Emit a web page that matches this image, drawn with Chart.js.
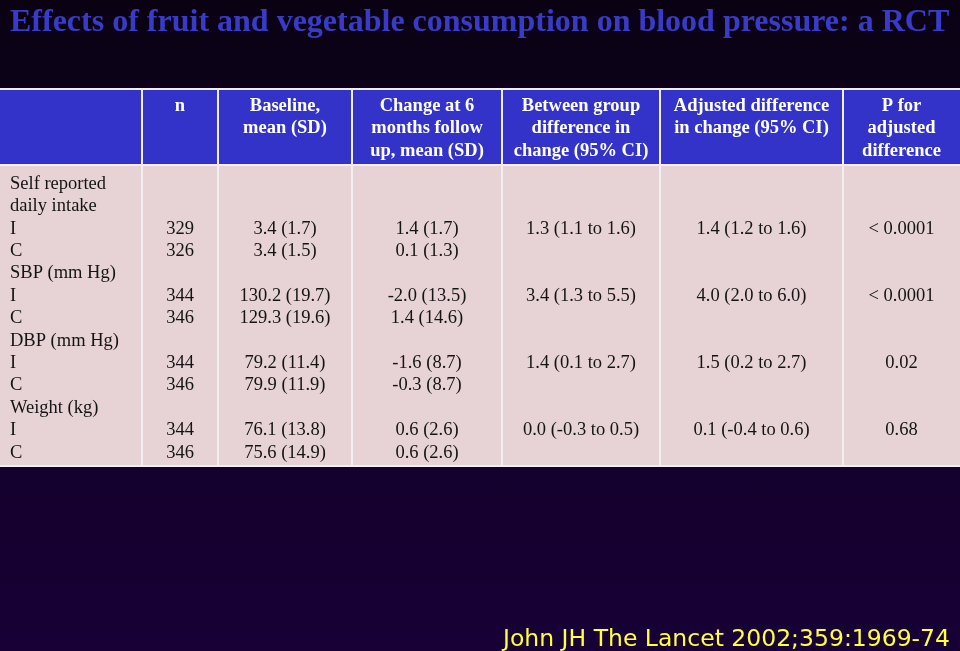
<!DOCTYPE html>
<html>
<head>
<meta charset="utf-8">
<script src="https://cdn.jsdelivr.net/npm/chart.js@4/dist/chart.umd.min.js"></script>
<style>
  html, body { margin: 0; padding: 0; width: 960px; height: 651px; overflow: hidden; }
  body { background: linear-gradient(to bottom, #0a0213 0%, #110125 45%, #180036 100%); position: relative; }
  #title { position: absolute; left: 10px; top: 2px; font: bold 32px "Liberation Serif", serif; color: #3a3ac8; white-space: nowrap; line-height: 36px; }
  #cite { position: absolute; right: 10px; top: 622px; font: 23.5px "Comic Sans MS", "DejaVu Sans", sans-serif; color: #ffff3a; white-space: nowrap; line-height: 32px; }
  #wrap { position: absolute; left: 0; top: 0; width: 960px; height: 651px; }
</style>
</head>
<body>
<div id="wrap"><canvas id="tableChart" width="960" height="651"></canvas></div>
<div id="title">Effects of fruit and vegetable consumption on blood pressure: a RCT</div>
<div id="cite">John JH The Lancet 2002;359:1969-74</div>
<script>
// table data
const headers = [
    [''],
    ['n'],
    ['Baseline,', 'mean (SD)'],
    ['Change at 6', 'months follow', 'up, mean (SD)'],
    ['Between group', 'difference in', 'change (95% CI)'],
    ['Adjusted difference', 'in change (95% CI)'],
    ['P for', 'adjusted', 'difference']
];
const rowLabels = ['Self reported', 'daily intake', 'I', 'C', 'SBP (mm Hg)', 'I', 'C', 'DBP (mm Hg)', 'I', 'C', 'Weight (kg)', 'I', 'C'];
const nCounts = ['', '', '329', '326', '', '344', '346', '', '344', '346', '', '344', '346'];
const baseline = ['', '', '3.4 (1.7)', '3.4 (1.5)', '', '130.2 (19.7)', '129.3 (19.6)', '', '79.2 (11.4)', '79.9 (11.9)', '', '76.1 (13.8)', '75.6 (14.9)'];
const change6m = ['', '', '1.4 (1.7)', '0.1 (1.3)', '', '-2.0 (13.5)', '1.4 (14.6)', '', '-1.6 (8.7)', '-0.3 (8.7)', '', '0.6 (2.6)', '0.6 (2.6)'];
const betweenDiff = ['', '', '1.3 (1.1 to 1.6)', '', '', '3.4 (1.3 to 5.5)', '', '', '1.4 (0.1 to 2.7)', '', '', '0.0 (-0.3 to 0.5)', ''];
const adjustedDiff = ['', '', '1.4 (1.2 to 1.6)', '', '', '4.0 (2.0 to 6.0)', '', '', '1.5 (0.2 to 2.7)', '', '', '0.1 (-0.4 to 0.6)', ''];
const pAdjusted = ['', '', '< 0.0001', '', '', '< 0.0001', '', '', '0.02', '', '', '0.68', ''];

const bodyColumns = [rowLabels, nCounts, baseline, change6m, betweenDiff, adjustedDiff, pAdjusted];

// layout (page units, mapped through the chart scales)
const colEdges = [0, 142, 218, 352, 502, 660, 843, 960];
const tableTop = 88, headerBottom = 165, tableBottom = 467;
const headLine0 = 106, bodyLine0 = 184, linePitch = 22.4, headPitch = 22.5;
const headerBlue = '#3333c9', bodyPink = '#e7d3d5', gridWhite = '#f2eef2';

const datasets = [];
headers.forEach(function(lines, c) {
    const cx = (colEdges[c] + colEdges[c + 1]) / 2;
    datasets.push({
        label: 'head' + c,
        data: lines.map(function(t, i) { return { x: cx, y: headLine0 + i * headPitch, text: t }; }),
        textAlign: 'center',
        textFont: 'bold 18.5px "Liberation Serif", serif',
        textColor: '#ffffff',
        pointRadius: 0
    });
});
bodyColumns.forEach(function(col, c) {
    const left = c === 0;
    const cx = left ? colEdges[0] + 10 : (colEdges[c] + colEdges[c + 1]) / 2;
    datasets.push({
        label: 'body' + c,
        data: col.map(function(t, i) { return { x: cx, y: bodyLine0 + i * linePitch, text: t }; }),
        textAlign: left ? 'left' : 'center',
        textFont: '18.5px "Liberation Serif", serif',
        textColor: '#141414',
        pointRadius: 0
    });
});

const tablePlugin = {
    id: 'tableGrid',
    beforeDatasetsDraw: function(chart) {
        const ctx = chart.ctx, xs = chart.scales.x, ys = chart.scales.y;
        ctx.save();
        // grid lines show through the gaps between cells
        ctx.fillStyle = gridWhite;
        ctx.fillRect(xs.getPixelForValue(0), ys.getPixelForValue(tableTop),
            xs.getPixelForValue(960) - xs.getPixelForValue(0), ys.getPixelForValue(tableBottom) - ys.getPixelForValue(tableTop));
        for (let c = 0; c < colEdges.length - 1; c++) {
            const x0 = xs.getPixelForValue(colEdges[c] + (c === 0 ? 0 : 1));
            const x1 = xs.getPixelForValue(colEdges[c + 1] - (c === colEdges.length - 2 ? 0 : 1));
            ctx.fillStyle = headerBlue;
            ctx.fillRect(x0, ys.getPixelForValue(tableTop + 2), x1 - x0, ys.getPixelForValue(headerBottom - 1) - ys.getPixelForValue(tableTop + 2));
            ctx.fillStyle = bodyPink;
            ctx.fillRect(x0, ys.getPixelForValue(headerBottom + 1), x1 - x0, ys.getPixelForValue(tableBottom - 2) - ys.getPixelForValue(headerBottom + 1));
        }
        ctx.restore();
    },
    afterDatasetsDraw: function(chart) {
        const ctx = chart.ctx;
        ctx.save();
        ctx.textBaseline = 'middle';
        chart.data.datasets.forEach(function(ds, d) {
            const meta = chart.getDatasetMeta(d);
            ctx.font = ds.textFont;
            ctx.fillStyle = ds.textColor;
            ctx.textAlign = ds.textAlign;
            meta.data.forEach(function(pt, i) {
                const t = ds.data[i].text;
                if (t) ctx.fillText(t, pt.x, pt.y);
            });
        });
        ctx.restore();
    }
};

new Chart(document.getElementById('tableChart'), {
    type: 'scatter',
    data: { datasets: datasets },
    options: {
        responsive: false,
        animation: false,
        devicePixelRatio: 1,
        layout: { padding: 0 },
        scales: {
            x: { type: 'linear', min: 0, max: 960, display: false },
            y: { type: 'linear', min: 0, max: 651, reverse: true, display: false }
        },
        plugins: {
            legend: { display: false },
            tooltip: { enabled: false },
            title: { display: false }
        }
    },
    plugins: [tablePlugin]
});
</script>
</body>
</html>
